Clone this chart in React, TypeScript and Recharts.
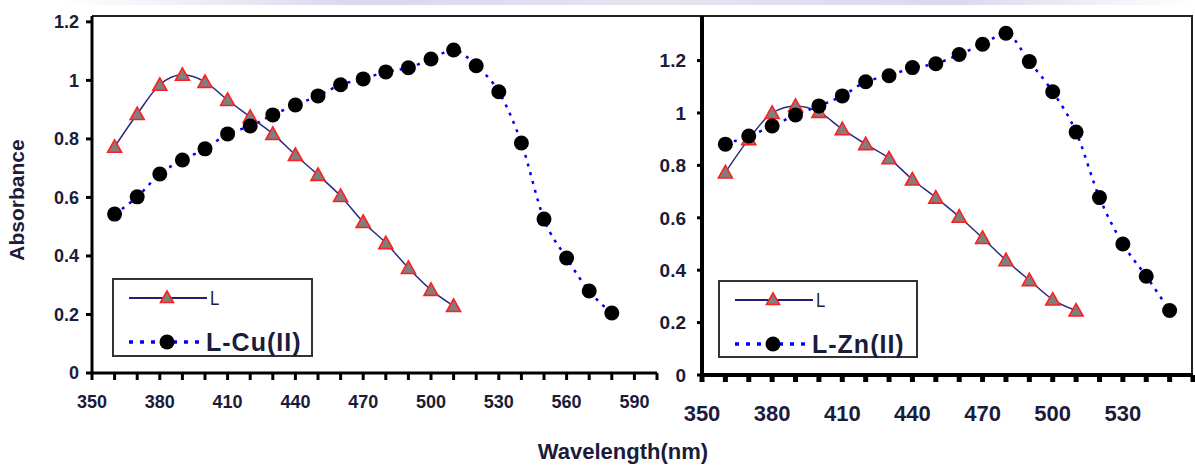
import { Legend, Line, LineChart, XAxis, YAxis } from "recharts";

const FONT = "'Liberation Sans', Arial, sans-serif";
const TEXT = "#1b1b3a";

// wavelengths (nm)
const WL_L = [360, 370, 380, 390, 400, 410, 420, 430, 440, 450, 460, 470, 480, 490, 500, 510];
const WL_CU = [360, 370, 380, 390, 400, 410, 420, 430, 440, 450, 460, 470, 480, 490, 500, 510, 520, 530, 540, 550, 560, 570, 580];
const WL_ZN = [360, 370, 380, 390, 400, 410, 420, 430, 440, 450, 460, 470, 480, 490, 500, 510, 520, 530, 540, 550];

// absorbance, left panel
const ABS_L_LEFT = [0.773, 0.885, 0.985, 1.019, 0.995, 0.933, 0.875, 0.817, 0.745, 0.677, 0.605, 0.516, 0.444, 0.359, 0.284, 0.229];
const ABS_CU = [0.543, 0.602, 0.68, 0.728, 0.766, 0.817, 0.844, 0.882, 0.916, 0.947, 0.985, 1.005, 1.029, 1.043, 1.073, 1.104, 1.05, 0.961, 0.786, 0.526, 0.393, 0.28, 0.205];

// absorbance, right panel
const ABS_L_RIGHT = [0.773, 0.9, 1.0, 1.027, 1.004, 0.938, 0.881, 0.827, 0.746, 0.677, 0.604, 0.523, 0.438, 0.362, 0.288, 0.246];
const ABS_ZN = [0.881, 0.912, 0.95, 0.992, 1.027, 1.065, 1.119, 1.142, 1.173, 1.188, 1.223, 1.262, 1.304, 1.196, 1.081, 0.927, 0.677, 0.5, 0.377, 0.246];

const LEFT_X_TICKS = [350, 360, 370, 380, 390, 400, 410, 420, 430, 440, 450, 460, 470, 480, 490, 500, 510, 520, 530, 540, 550, 560, 570, 580, 590, 600];
const LEFT_X_LABELS = [350, 380, 410, 440, 470, 500, 530, 560, 590];
const RIGHT_X_TICKS = [350, 360, 370, 380, 390, 400, 410, 420, 430, 440, 450, 460, 470, 480, 490, 500, 510, 520, 530, 540, 550, 560];
const RIGHT_X_LABELS = [350, 380, 410, 440, 470, 500, 530];
const Y_TICKS = [0, 0.2, 0.4, 0.6, 0.8, 1, 1.2];

const zip = (xs: number[], ys: number[]) => xs.map((x, i) => ({ x, y: ys[i] }));

const TriangleDot = (props: any) => {
  const { cx, cy, index } = props;
  if (cx == null || cy == null) return null;
  return (
    <polygon
      key={`t-${index}`}
      points={`${cx},${cy - 7} ${cx - 7},${cy + 5.5} ${cx + 7},${cy + 5.5}`}
      fill="#7f7f7f"
      stroke="#ff1f1f"
      strokeWidth={1.6}
    />
  );
};

const CircleDot = (props: any) => {
  const { cx, cy, index } = props;
  if (cx == null || cy == null) return null;
  return <circle key={`c-${index}`} cx={cx} cy={cy} r={7.5} fill="#000" />;
};

function LegendBox({ metal, w, h }: { metal: string; w: number; h: number }) {
  return (
    <svg width={w} height={h} style={{ display: "block" }}>
      <rect x={1} y={1} width={w - 2} height={h - 2} fill="#fff" stroke="#333" strokeWidth={2} />
      <line x1={17} y1={20} x2={95} y2={20} stroke="#1f1f7a" strokeWidth={2} />
      <polygon points="55,13 48.5,24.5 61.5,24.5" fill="#7f7f7f" stroke="#ff1f1f" strokeWidth={1.6} />
      <text x={98} y={20} dominantBaseline="central" fontFamily={FONT} fontSize={21} fill={TEXT} transform="translate(98 0) scale(0.8 1) translate(-98 0)">
        L
      </text>
      <line x1={17} y1={64} x2={90} y2={64} stroke="#0000ff" strokeWidth={3.5} strokeDasharray="4 7" />
      <circle cx={55} cy={64} r={7.5} fill="#000" />
      <text x={94} y={64} dominantBaseline="central" fontFamily={FONT} fontSize={25} fontWeight={700} letterSpacing={1} fill={TEXT}>
        {metal}
      </text>
    </svg>
  );
}

const axisLine = { stroke: "#000", strokeWidth: 3 };
const tickLine = { stroke: "#000", strokeWidth: 3 };

export default function App() {
  const leftL = zip(WL_L, ABS_L_LEFT);
  const leftCu = zip(WL_CU, ABS_CU);
  const rightL = zip(WL_L, ABS_L_RIGHT);
  const rightZn = zip(WL_ZN, ABS_ZN);

  return (
    <div style={{ position: "absolute", left: 0, top: 0, width: 1195, height: 466, overflow: "hidden", background: "#fff", fontFamily: FONT }}>
      {/* faded band at the very top of the scan */}
      <div style={{ position: "absolute", left: 0, top: 0, width: 1195, height: 5, background: "linear-gradient(to right, #fff 5%, #d8d8ee 30%, #e4e4f2 55%, #d9d9ee 80%, #fff)" }} />
      {/* frame: top edge across both panels and right edge */}
      <div style={{ position: "absolute", left: 92, top: 15, width: 1099, height: 360, borderTop: "2px solid #222", borderRight: "2px solid #222" }} />

      <div style={{ position: "absolute", left: 0, top: 0 }}>
        <LineChart width={700} height={466} margin={{ top: 16, right: 43, bottom: 53, left: 0 }}>
          <XAxis
            type="number"
            dataKey="x"
            domain={[350, 600]}
            ticks={LEFT_X_TICKS}
            interval={0}
            tickFormatter={(v) => (LEFT_X_LABELS.includes(Number(v)) ? String(v) : "")}
            axisLine={axisLine}
            tickLine={tickLine}
            tickSize={7}
            tickMargin={15}
            height={40}
            tick={{ fill: TEXT, fontSize: 18, fontWeight: 700, fontFamily: FONT }}
          />
          <YAxis
            type="number"
            domain={[0, 1.22]}
            ticks={Y_TICKS}
            interval={0}
            width={92}
            axisLine={axisLine}
            tickLine={tickLine}
            tickSize={6}
            tickMargin={7}
            tick={{ fill: TEXT, fontSize: 18, fontWeight: 700, fontFamily: FONT }}
          />
          <Line data={leftL} dataKey="y" type="monotone" stroke="#2a2a7e" strokeWidth={1.5} dot={TriangleDot} activeDot={false} isAnimationActive={false} />
          <Line data={leftCu} dataKey="y" type="monotone" stroke="#0000ff" strokeWidth={2.5} strokeDasharray="3 6" dot={CircleDot} activeDot={false} isAnimationActive={false} />
          <Legend
            layout="vertical"
            align="center"
            verticalAlign="middle"
            wrapperStyle={{ position: "absolute", left: 112, top: 278, width: 201, height: 79 }}
            content={() => <LegendBox metal="L-Cu(II)" w={201} h={79} />}
          />
        </LineChart>
      </div>

      <div style={{ position: "absolute", left: 610, top: 0 }}>
        <LineChart width={585} height={466} margin={{ top: 16, right: 2, bottom: 51, left: 0 }}>
          <XAxis
            type="number"
            dataKey="x"
            domain={[350, 560]}
            ticks={RIGHT_X_TICKS}
            interval={0}
            tickFormatter={(v) => (RIGHT_X_LABELS.includes(Number(v)) ? String(v) : "")}
            axisLine={{ stroke: "#000", strokeWidth: 4 }}
            tickLine={{ stroke: "#000", strokeWidth: 5 }}
            tickSize={7}
            tickMargin={23}
            height={40}
            tick={{ fill: TEXT, fontSize: 22, fontWeight: 700, fontFamily: FONT }}
          />
          <YAxis
            type="number"
            domain={[0, 1.37]}
            ticks={Y_TICKS}
            interval={0}
            width={92}
            axisLine={{ stroke: "#000", strokeWidth: 4 }}
            tickLine={tickLine}
            tickSize={5}
            tickMargin={11}
            tick={{ fill: TEXT, fontSize: 19, fontWeight: 700, fontFamily: FONT }}
          />
          <Line data={rightL} dataKey="y" type="monotone" stroke="#2a2a7e" strokeWidth={1.5} dot={TriangleDot} activeDot={false} isAnimationActive={false} />
          <Line data={rightZn} dataKey="y" type="monotone" stroke="#0000ff" strokeWidth={2.5} strokeDasharray="3 6" dot={CircleDot} activeDot={false} isAnimationActive={false} />
          <Legend
            layout="vertical"
            align="center"
            verticalAlign="middle"
            wrapperStyle={{ position: "absolute", left: 108, top: 280, width: 200, height: 78 }}
            content={() => <LegendBox metal="L-Zn(II)" w={200} h={78} />}
          />
        </LineChart>
      </div>

      {/* axis titles */}
      <div style={{ position: "absolute", left: 17, top: 200, transform: "translate(-50%, -50%) rotate(-90deg)", fontSize: 21, fontWeight: 700, color: TEXT, whiteSpace: "nowrap" }}>
        Absorbance
      </div>
      <div style={{ position: "absolute", left: 623, top: 452, transform: "translate(-50%, -50%)", fontSize: 22, fontWeight: 700, color: TEXT, whiteSpace: "nowrap" }}>
        Wavelength(nm)
      </div>
    </div>
  );
}
